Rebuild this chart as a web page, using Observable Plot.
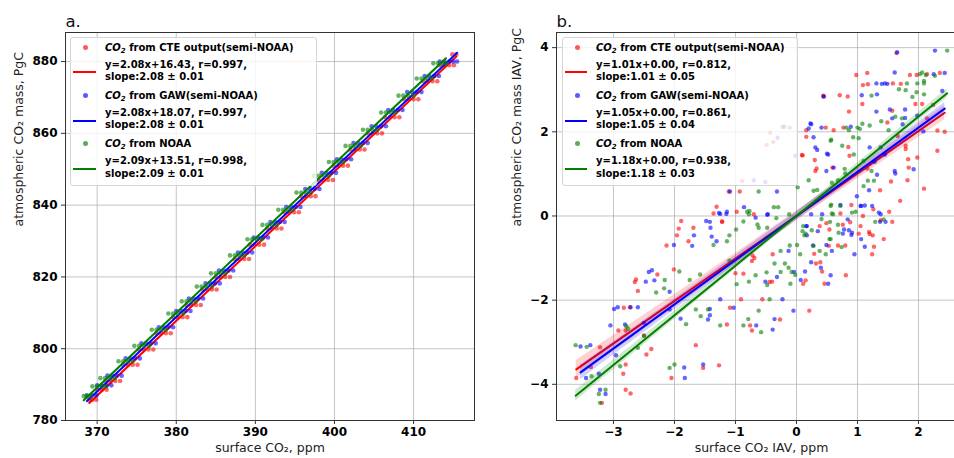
<!DOCTYPE html>
<html><head><meta charset="utf-8">
<script src="https://cdn.jsdelivr.net/npm/d3@7"></script>
<script src="https://cdn.jsdelivr.net/npm/@observablehq/plot@0.6"></script>
<style>
body{margin:0;background:#fff;font-family:"DejaVu Sans",sans-serif;}
#wrap{display:flex;width:954px;height:458px;overflow:hidden;}
.panel{position:relative;width:477px;height:458px;overflow:hidden;flex:none;}
.panel svg{max-width:none !important;}
.legend{position:absolute;background:rgba(255,255,255,0.8);border:1px solid #d6d6d6;border-radius:3px;box-sizing:border-box;font-size:10px;font-weight:bold;color:#000;}
.legend .dot{position:absolute;width:5px;height:5px;border-radius:50%;}
.legend .ln{position:absolute;height:2px;}
.legend .tx{position:absolute;white-space:nowrap;line-height:12.5px;}
.legend sub{font-size:70%;vertical-align:-0.3em;line-height:0;}
</style></head><body>
<div id="wrap"><div class="panel" id="pa"></div><div class="panel" id="pb"></div></div>
<script>
// ---------------- data ----------------
const seriesNames = ["CTE output(semi-NOAA)", "GAW(semi-NOAA)", "NOAA"];
const seriesColors = ["#ff0000", "#0000ff", "#008000"];
const fitTextA = [["y=2.08x+16.43, r=0.997,", "slope:2.08 \u00b1 0.01"],
                  ["y=2.08x+18.07, r=0.997,", "slope:2.08 \u00b1 0.01"],
                  ["y=2.09x+13.51, r=0.998,", "slope:2.09 \u00b1 0.01"]];
const fitTextB = [["y=1.01x+0.00, r=0.812,", "slope:1.01 \u00b1 0.05"],
                  ["y=1.05x+0.00, r=0.861,", "slope:1.05 \u00b1 0.04"],
                  ["y=1.18x+0.00, r=0.938,", "slope:1.18 \u00b1 0.03"]];
const slopesB = [1.01, 1.05, 1.18];
const slopeErrB = [0.05, 0.04, 0.03];
const interceptsB = [0.00, 0.00, 0.00];
const xTicksA = [370, 380, 390, 400, 410];
const yTicksA = [780, 800, 820, 840, 860, 880];
const xTicksB = [-3, -2, -1, 0, 1, 2];
const yTicksB = [-4, -2, 0, 2, 4];
const panelTitles = ["a.", "b."];
const xLabels = ["surface CO\u2082, ppm", "surface CO\u2082 IAV, ppm"];
const yLabels = ["atmospheric CO\u2082 mass, PgC", "atmospheric CO\u2082 mass IAV, PgC"];

// panel a: rows of [atmospheric mass, [surface CO2 values]]
const aRowsCTE = [
 [785.8,[369.0,369.4,369.9]],[788.6,[370.0,370.6,371.2]],[791.0,[371.1,371.7,372.3,372.9]],
 [795.5,[373.3,373.9,374.5,375.1]],[799.8,[375.3,375.9,376.5,377.1]],[804.3,[377.5,378.1,378.7,379.3]],
 [808.8,[379.6,380.2,380.8,381.4]],[812.2,[381.3,381.9,382.5,383.1]],[816.5,[383.3,383.9,384.5,385.1]],
 [820.0,[385.0,385.6,386.2,386.8]],[825.0,[387.4,388.0,388.6,389.2]],[829.0,[389.3,389.9,390.5,391.1]],
 [833.5,[391.5,392.1,392.7,393.3]],[838.0,[393.7,394.3,394.9,395.5]],[842.5,[395.8,396.4,397.0,397.6]],
 [847.0,[398.0,398.6,399.2,399.8]],[851.0,[399.9,400.5,401.1,401.7]],[855.5,[402.0,402.6,403.2,403.8]],
 [860.0,[404.2,404.8,405.4,406.0]],[864.5,[406.4,407.0,407.6,408.2]],[869.5,[408.8,409.4,410.0,410.6]],
 [874.5,[411.2,411.8,412.4,413.0]],[879.0,[413.3,413.9,414.5,415.1]],[882.0,[414.9,415.4]]
];
const aRowsGAW = [
 [787.0,[368.7,369.3,369.9]],[789.8,[370.0,370.6,371.2,371.8]],[792.5,[371.3,371.9,372.5,373.1]],
 [797.3,[373.6,374.2,374.8,375.4]],[801.5,[375.6,376.2,376.8,377.4]],[806.0,[377.8,378.4,379.0,379.6]],
 [810.5,[380.0,380.6,381.2,381.8]],[814.0,[381.6,382.2,382.8,383.4]],[818.2,[383.7,384.3,384.9,385.5]],
 [821.8,[385.4,386.0,386.6,387.2]],[826.8,[387.8,388.4,389.0,389.6]],[831.0,[389.8,390.4,391.0,391.6]],
 [835.3,[391.9,392.5,393.1,393.7]],[839.5,[393.9,394.5,395.1,395.7]],[844.5,[396.3,396.9,397.5,398.1]],
 [849.0,[398.4,399.0,399.6,400.2]],[852.8,[400.3,400.9,401.5,402.1]],[857.3,[402.4,403.0,403.6,404.2]],
 [862.0,[404.7,405.3,405.9,406.5]],[866.5,[406.8,407.4,408.0,408.6]],[871.5,[409.2,409.8,410.4,411.0]],
 [876.0,[411.4,412.0,412.6,413.2]],[880.0,[413.3,413.9,414.5,415.0,415.5]]
];
const aRowsNOAA = [
 [786.8,[368.3,368.7,369.2]],[789.5,[369.4,370.0,370.6,371.1]],[791.8,[370.4,371.0,371.6,372.2]],
 [796.5,[372.7,373.3,373.9,374.5]],[800.8,[374.7,375.3,375.9,376.6]],[805.3,[376.9,377.5,378.1,378.7]],
 [809.8,[379.0,379.6,380.2,380.9]],[813.2,[380.7,381.3,381.9,382.5]],[817.3,[382.6,383.2,383.8,384.5]],
 [821.0,[384.4,385.0,385.6,386.2]],[826.0,[386.8,387.4,388.0,388.6]],[830.5,[389.0,389.6,390.2,390.8]],
 [834.5,[390.9,391.5,392.1,392.7]],[838.7,[392.9,393.5,394.1,394.7]],[843.5,[395.2,395.8,396.4,397.0]],
 [848.2,[397.4,398.0,398.6,399.3]],[852.0,[399.3,399.9,400.5,401.1]],[856.5,[401.4,402.0,402.6,403.3]],
 [861.0,[403.6,404.2,404.8,405.4]],[865.8,[405.9,406.5,407.1,407.7]],[870.5,[408.1,408.7,409.3,410.0]],
 [875.3,[410.4,411.0,411.6,412.3]],[879.5,[412.5,413.1,413.7,414.1]]
];

// panel b: [surface IAV, mass IAV]
const bCTE = [
[-1.31,0.22],[-1.36,0.06],[-1.22,-0.14],[-1.89,-0.12],[-1.93,-0.30],[-1.69,-0.28],[-1.96,-0.46],[-1.77,-0.60],[-2.13,-0.70],[-2.01,-1.27],[-2.63,-1.51],[-2.65,-1.57],[-2.60,-1.78],[-2.28,-1.39],[-2.83,-2.18],[-2.73,-2.17],[-2.92,-2.72],[-2.80,-2.72],[-3.22,-3.12],[-3.37,-3.59],[-3.61,-3.85],[-2.46,-3.29],[-2.38,-3.16],[-2.80,-3.53],[-2.84,-3.75],[-2.80,-4.13],[-2.72,-4.22],[-3.19,-4.44],[-2.50,-2.84],[-2.05,-3.85],[-1.65,-3.07],[-1.53,-3.61],[-1.27,-3.55],[-0.91,-1.98],[-0.76,-2.60],[-0.72,-0.94],[-0.56,-1.98],[-0.44,-1.57],[-0.39,-0.91],[-1.14,-2.58],[-1.09,-2.18],[-1.00,-1.36],
[0.38,-0.24],[0.54,-0.32],[0.76,-0.21],[1.02,-0.42],[1.09,0.00],[1.19,-0.38],[1.25,-0.46],[1.38,-0.10],[1.52,0.10],[1.57,-0.14],[1.43,-0.55],[1.27,-0.73],[1.24,-0.91],[0.80,-0.70],[0.68,-0.70],[0.53,-0.71],[0.29,-0.90],[0.39,-1.10],[0.32,-1.13],[0.42,-1.32],[0.46,-1.61],[0.15,-1.53],[0.11,-1.61],[0.81,-1.41],[0.21,-2.25],[-0.27,-2.46],[-0.40,-1.56],[-0.69,-1.00],[-0.73,-1.07],[-0.87,-1.37],[-0.73,-2.72],
[1.64,3.87],[0.98,3.35],[1.16,3.40],[1.09,3.11],[1.17,3.13],[0.44,2.86],[0.71,2.87],[0.84,2.84],[1.08,2.66],[0.86,2.48],[1.58,3.15],[1.71,3.14],[1.86,3.35],[1.97,3.35],[2.14,3.37],[1.95,2.66],[2.06,2.66],[2.24,2.64],[2.35,3.40],[0.16,2.04],[0.48,2.10],[0.61,2.04],[0.77,2.10],[1.57,2.50],[1.49,2.22],[1.79,1.59],[0.10,1.44],[0.30,1.33],[0.31,1.07],[0.85,1.64],[0.87,1.43],[1.66,1.90],[1.79,1.67],[1.83,1.35],[1.84,1.15],[1.98,1.39],[2.09,0.65],[1.82,0.85],[2.14,2.32],[2.31,2.03],[2.31,1.55],[1.37,0.61],[1.55,0.82],[1.70,0.36],[1.26,0.16],[0.90,0.26],[0.72,0.06],[0.88,-0.15],[0.49,-0.17],[1.20,-0.43],[1.05,-0.24],[1.16,1.13],[0.59,1.15],[2.43,2.00],
[-1.11,0.58],[-0.93,0.58],[-0.98,0.10],[-0.70,0.04],[-1.22,-0.13],[0.16,1.88],[0.09,1.45],[0.33,1.13],[0.44,2.84],
[-0.89,0.83],[-0.43,1.98],[-0.23,2.12],[-0.49,1.69],[-0.38,1.76],[-0.11,2.10]
];
const bGAW = [
[-1.48,-0.12],[-1.42,-0.14],[-1.25,0.05],[-1.15,0.05],[-0.86,0.21],[-0.48,0.03],[-1.68,-0.46],[-1.39,-0.49],[-1.31,-0.60],[-2.01,-0.69],[-1.71,-0.71],[-2.42,-1.33],[-2.37,-1.29],[-2.47,-1.56],[-2.33,-1.53],[-2.08,-1.80],[-2.99,-2.21],[-2.93,-2.17],[-2.72,-2.17],[-2.60,-2.17],[-3.05,-2.60],[-2.81,-2.58],[-2.96,-3.31],[-3.24,-3.75],[-3.13,-4.23],[-3.22,-4.13],[-3.54,-3.10],[-3.38,-3.07],[-3.45,-3.85],[-1.90,-2.44],[-1.53,-3.53],[-1.84,-3.60],[-1.83,-3.85],[-1.42,-2.21],[-1.25,-1.98],[-1.03,-2.18],[-0.39,-2.70],[-0.23,-1.98],[-0.05,-2.25],[-1.45,-2.46],[-1.42,-2.36],[-2.08,-2.22],[-2.50,-2.54],
[0.17,-0.24],[0.35,-0.36],[0.76,-0.42],[0.86,-0.34],[0.90,-0.45],[0.84,-0.08],[1.06,-0.55],[1.12,-0.73],[0.95,-0.91],[0.58,-0.83],[0.49,-0.69],[0.27,-0.70],[0.24,-1.10],[0.40,-1.23],[0.14,-1.32],[0.07,-1.52],[-0.04,-1.33],[-0.13,-0.83],[0.17,-0.46],[0.56,-1.41],[0.52,-1.61],[-0.51,-1.56],[-0.32,-1.45],[-0.36,-2.45],[-0.66,-2.60],[-0.47,0.04],[1.05,0.24],[1.12,0.25],[1.35,0.08],[1.37,-0.14],[1.46,-0.14],
[1.61,3.41],[1.31,3.15],[1.40,3.14],[1.49,3.14],[1.32,2.89],[1.07,2.87],[1.31,2.48],[1.53,2.53],[1.78,2.53],[1.78,2.33],[1.57,2.32],[1.74,2.18],[2.25,3.37],[2.43,3.40],[0.24,2.18],[0.41,2.10],[0.89,2.12],[0.28,1.87],[0.31,1.63],[0.34,1.57],[0.52,1.46],[0.49,1.07],[0.61,1.15],[1.20,1.63],[1.38,1.63],[1.45,1.46],[1.61,1.07],[1.62,1.01],[1.92,1.11],[1.28,1.29],[1.32,0.98],[1.19,0.61],[0.99,0.47],[1.06,0.24],[1.24,0.24],[1.38,0.04],[0.72,0.26],[0.24,0.04],[0.42,0.04],[0.78,-0.32],[0.16,-0.24],[0.91,-0.40],[2.27,3.93],
[-1.09,0.58],[-1.27,0.07],[-1.14,0.10],[-0.67,-0.04],[-1.41,-0.28],[-0.32,0.58],[0.20,2.08],[0.23,2.20],[0.45,2.84],[0.50,1.48],[1.65,3.89],[1.45,3.15],[1.98,2.38],[2.08,2.01],[2.39,2.97],
[-0.70,0.85],[-0.51,0.81],[-0.20,2.12],[-0.31,1.86],[-0.02,1.43]
];
const bNOAA = [
[-1.10,-0.46],[-0.99,-0.32],[-1.36,-0.69],[-1.14,-0.60],[-0.77,0.12],[-0.64,-0.20],[-0.37,0.21],[-1.92,-1.32],[-2.16,-1.52],[-2.30,-1.82],[-2.17,-1.72],[-1.58,-1.39],[-1.75,-1.52],[-2.79,-2.62],[-2.76,-2.68],[-2.60,-3.13],[-2.50,-2.85],[-2.89,-3.57],[-3.24,-4.23],[-3.22,-4.44],[-3.13,-4.13],[-3.36,-3.81],[-3.62,-3.07],[-3.44,-3.11],[-2.08,-3.61],[-2.00,-3.53],[-1.81,-2.57],[-1.65,-2.22],[-1.57,-2.38],[-1.45,-2.22],[-1.25,-2.60],[-0.79,-2.45],[-0.62,-2.25],[-0.58,-2.76],[-1.10,-1.06],[-0.98,-1.62],[-0.48,-1.64],[-0.49,-1.34],[-0.19,-1.13],[-0.08,-1.33],[-0.26,-1.33],[-0.67,-1.41],
[-0.30,0.21],[-0.33,-0.05],[-0.62,-0.28],[0.11,-0.24],[0.10,-0.36],[0.13,-0.46],[0.25,-0.34],[0.41,-0.07],[0.55,-0.14],[0.68,-0.21],[0.56,0.24],[0.58,0.06],[0.72,0.24],[0.91,0.08],[1.29,-0.14],[0.54,-0.55],[0.74,-0.74],[0.28,-0.71],[-0.11,-0.70],[0.01,-0.69],[-0.26,-0.83],[0.06,-0.91],[0.38,-0.83],[0.48,-0.91],[-0.36,-1.13],[-0.13,-1.23],[-0.02,-1.40],[-0.10,-1.61],[-0.78,-1.56],[-0.44,-1.98],[-0.87,-2.60],
[2.47,3.93],[2.06,3.41],[2.12,3.35],[1.81,3.15],[1.98,3.15],[2.09,3.15],[1.97,2.94],[2.09,2.89],[1.79,2.99],[1.90,2.83],[1.68,3.01],[1.23,2.86],[1.73,2.32],[1.62,2.36],[1.51,2.04],[1.39,2.25],[1.20,2.15],[1.04,2.07],[1.08,2.19],[0.86,2.04],[0.57,1.81],[0.75,1.67],[0.93,1.87],[1.02,1.85],[0.94,1.46],[1.10,1.31],[1.23,1.07],[1.17,0.84],[1.27,0.84],[0.79,1.12],[0.80,1.01],[0.58,0.79],[0.68,0.85],[0.20,0.85],[0.28,0.60],[0.02,0.68],[0.57,0.27],[0.60,0.04],[0.97,0.10],[1.10,0.71],[1.43,-0.08],[0.69,-0.40],[0.15,-0.42],[0.56,-0.55],
[-0.81,0.10],[-0.78,0.04],[-0.87,-0.13],[-0.62,0.58],[-0.48,-0.28],[-0.12,0.04],[0.56,1.79],[0.34,0.62],[0.82,2.10],[1.00,2.10],[2.02,3.37],[2.09,3.21],[2.27,3.33]
];

// ---------------- helpers ----------------
const rowsToPoints = rows => rows.flatMap(([y, xs]) => xs.map(x => ({x, y})));
const pairsToPoints = pairs => pairs.map(([x, y]) => ({x, y}));
const minusFmt = d => d < 0 ? "\u2212" + Math.abs(d) : String(d);
const gridStyle = {stroke: "#b0b0b0", strokeOpacity: 0.75, strokeWidth: 1};

// confidence band of the stated fit: slope uncertainty (legend) and scatter of the mean
function fitBand(d, slope, icpt, slopeErr) {
  const n = d.length;
  const xm = d3.mean(d, p => p.x);
  const s = Math.sqrt(d3.sum(d, p => (p.y - (slope * p.x + icpt)) ** 2) / (n - 2));
  const ea = s / Math.sqrt(n);
  const [x0, x1] = d3.extent(d, p => p.x);
  return d3.range(0, 1.0001, 0.05).map(u => {
    const x = x0 + u * (x1 - x0);
    const h = Math.sqrt((slopeErr * (x - xm)) ** 2 + ea ** 2);
    const y = slope * x + icpt;
    return {x, y1: y - h, y2: y + h};
  });
}

function gridMarks(xt, yt) {
  return [
    Plot.gridX({ticks: xt, ...gridStyle}),
    Plot.gridY({ticks: yt, ...gridStyle})
  ];
}
function axisMarks(i, xt, yt, yLabelDx) {
  return [
    Plot.frame({stroke: "#333", strokeWidth: 1}),
    Plot.axisX({ticks: xt, tickSize: 4, tickPadding: 3, fontSize: 12, fontWeight: "bold", label: null, tickFormat: minusFmt, stroke: "#333"}),
    Plot.axisY({ticks: yt, tickSize: 4, tickPadding: 4, fontSize: 12, fontWeight: "bold", label: null, tickFormat: minusFmt, stroke: "#333"}),
    Plot.text([xLabels[i]], {frameAnchor: "bottom", dy: 31, fontSize: 12.5, fill: "#222"}),
    Plot.text([yLabels[i]], {frameAnchor: "left", rotate: -90, dx: yLabelDx, fontSize: 12.5, fill: "#222"}),
    Plot.text([panelTitles[i]], {frameAnchor: "top-left", textAnchor: "start", lineAnchor: "middle", dy: -11, fontSize: 16.5, fill: "#111"})
  ];
}
const svgStyle = {fontFamily: "DejaVu Sans", background: "white", overflow: "visible", maxWidth: "none"};

// ---------------- panel a ----------------
const dataA = [rowsToPoints(aRowsCTE), rowsToPoints(aRowsGAW), rowsToPoints(aRowsNOAA)];
const marksA = gridMarks(xTicksA, yTicksA);
dataA.forEach((d, i) => {
  marksA.push(Plot.dot(d, {x: "x", y: "y", r: 2.3, fill: seriesColors[i], fillOpacity: 0.6}));
  marksA.push(Plot.linearRegressionY(d, {x: "x", y: "y", stroke: seriesColors[i], fill: seriesColors[i], strokeWidth: 2, fillOpacity: 0.15}));
});
marksA.push(...axisMarks(0, xTicksA, yTicksA, -47));
const plotA = Plot.plot({
  width: 477, height: 458, marginLeft: 65, marginRight: 3, marginTop: 32, marginBottom: 38,
  x: {domain: [366.0, 417.7]}, y: {domain: [780, 888.1]},
  style: svgStyle,
  marks: marksA
});
document.getElementById("pa").appendChild(plotA);

// ---------------- panel b ----------------
const dataB = [pairsToPoints(bCTE), pairsToPoints(bGAW), pairsToPoints(bNOAA)];
const marksB = gridMarks(xTicksB, yTicksB);
dataB.forEach((d, i) => {
  const [x0, x1] = d3.extent(d, p => p.x);
  const fit = [x0, x1].map(x => ({x, y: slopesB[i] * x + interceptsB[i]}));
  marksB.push(Plot.dot(d, {x: "x", y: "y", r: 2.2, fill: seriesColors[i], fillOpacity: 0.6}));
  marksB.push(Plot.areaY(fitBand(d, slopesB[i], interceptsB[i], slopeErrB[i]), {x: "x", y1: "y1", y2: "y2", fill: seriesColors[i], fillOpacity: 0.18}));
  marksB.push(Plot.line(fit, {x: "x", y: "y", stroke: seriesColors[i], strokeWidth: 2}));
});
marksB.push(...axisMarks(1, xTicksB, yTicksB, -40));
const plotB = Plot.plot({
  width: 490, height: 458, marginLeft: 79, marginRight: 1, marginTop: 32, marginBottom: 38,
  x: {domain: [-3.934, 2.787]}, y: {domain: [-4.86, 4.36]},
  style: svgStyle,
  marks: marksB
});
document.getElementById("pb").appendChild(plotB);

// ---------------- legends ----------------
function addLegend(panelId, cfg, fitText) {
  const L = document.createElement("div");
  L.className = "legend";
  Object.assign(L.style, {left: cfg.left + "px", top: cfg.top + "px", width: cfg.width + "px", height: cfg.height + "px"});
  seriesNames.forEach((name, i) => {
    const off = i * 48.2;
    const dot = document.createElement("div");
    dot.className = "dot";
    Object.assign(dot.style, {left: (cfg.dotX - 2.5) + "px", top: (9.5 + off - 2.5) + "px", background: seriesColors[i], opacity: 0.65});
    const t1 = document.createElement("div");
    t1.className = "tx";
    Object.assign(t1.style, {left: cfg.textX + "px", top: (10.3 + off - 6.25) + "px"});
    t1.innerHTML = `<i>CO<sub>2</sub></i> from ${name}`;
    const ln = document.createElement("div");
    ln.className = "ln";
    Object.assign(ln.style, {left: cfg.lineX0 + "px", width: (cfg.lineX1 - cfg.lineX0) + "px", top: (34.3 + off - 1) + "px", background: seriesColors[i]});
    const t2 = document.createElement("div");
    t2.className = "tx";
    Object.assign(t2.style, {left: cfg.textX + "px", top: (27 + off - 6.25) + "px"});
    t2.innerHTML = fitText[i][0] + "<br>" + fitText[i][1];
    L.append(dot, t1, ln, t2);
  });
  document.getElementById(panelId).appendChild(L);
}
addLegend("pa", {left: 70, top: 37, width: 247, height: 149, dotX: 14, textX: 34, lineX0: 2, lineX1: 25}, fitTextA);
addLegend("pb", {left: 85, top: 37, width: 236, height: 149, dotX: 14, textX: 33, lineX0: 2, lineX1: 24}, fitTextB);
</script></body></html>
